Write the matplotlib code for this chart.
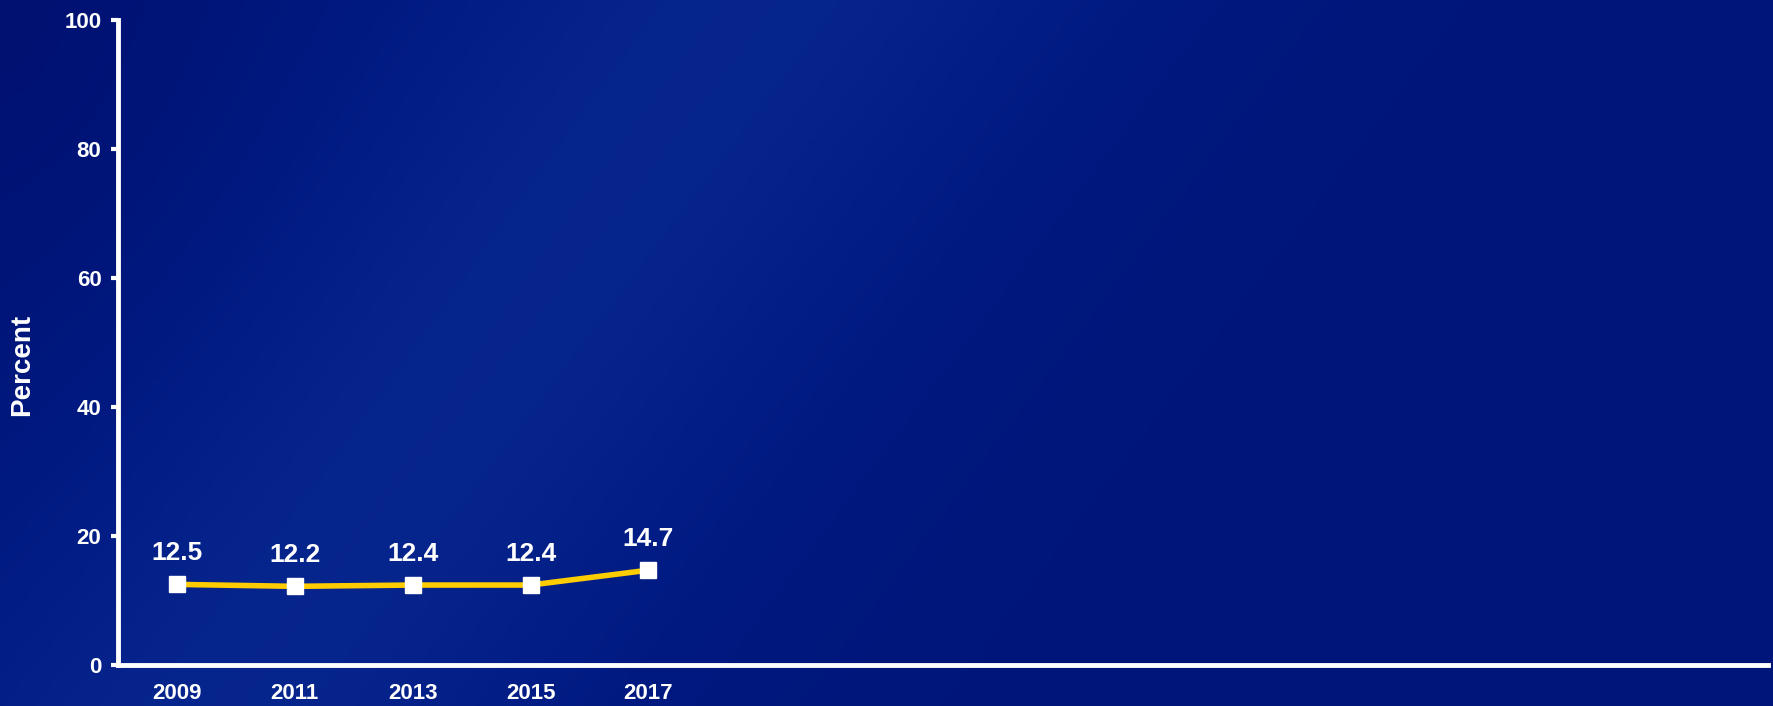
import numpy as np
import matplotlib
matplotlib.use('Agg')
import matplotlib.pyplot as plt
from matplotlib.colors import LinearSegmentedColormap

years = [2009, 2011, 2013, 2015, 2017]
percent = [12.5, 12.2, 12.4, 12.4, 14.7]
y_ticks = [0, 20, 40, 60, 80, 100]

plt.rcParams['font.family'] = ['Liberation Sans', 'DejaVu Sans']
plt.rcParams['font.weight'] = 'bold'

fig = plt.figure(figsize=(17.73, 7.06), dpi=100)

# background: navy with a lighter diagonal sweep
bg = fig.add_axes([0, 0, 1, 1], zorder=-10)
bg.set_axis_off()
h, w = 200, 500
yy, xx = np.mgrid[0:h, 0:w]
u = xx / w * 1773
v = (h - yy) / h * 706
d = u + 0.75 * (706 - v)
band = np.exp(-((d - 750) / 400) ** 2)
dark_tl = np.exp(-((u / 250) ** 2 + ((706 - v) / 350) ** 2)) * 0.6
field = np.clip(0.3 + 0.5 * band - 0.35 * dark_tl, 0, 1)
cmap = LinearSegmentedColormap.from_list('navy', ['#000f6e', '#001a82', '#0a2c94'])
bg.imshow(field, cmap=cmap, aspect='auto', extent=[0, 1, 0, 1], vmin=0, vmax=1)
bg.set_xlim(0, 1)
bg.set_ylim(0, 1)

ax = fig.add_axes([0.0666, 0.058, 0.9305, 0.914])
ax.patch.set_alpha(0)

ax.plot(years, percent, color='#FFCC00', lw=4, marker='s', markersize=11,
        markerfacecolor='white', markeredgecolor='white', zorder=3)
for x, y in zip(years, percent):
    ax.annotate(f'{y:.1f}', (x, y), xytext=(0, 14), textcoords='offset points',
                ha='center', va='bottom', color='white', fontsize=19, fontweight='bold')

ax.set_xlim(2008, 2036)
ax.set_ylim(0, 100)
ax.set_xticks(years)
ax.set_yticks(y_ticks)
ax.tick_params(axis='x', length=0, pad=13, labelsize=16, colors='white')
ax.tick_params(axis='y', length=5, width=3, direction='out', pad=7,
               labelsize=16, colors='white')
for lab in ax.get_xticklabels() + ax.get_yticklabels():
    lab.set_fontweight('bold')

for s in ['top', 'right']:
    ax.spines[s].set_visible(False)
for s in ['left', 'bottom']:
    ax.spines[s].set_color('white')
    ax.spines[s].set_linewidth(3.5)

ax.set_ylabel('Percent', color='white', fontsize=20, fontweight='bold')
ax.yaxis.set_label_coords(-0.05, 0.465)

fig.savefig('out.png', dpi=100)
